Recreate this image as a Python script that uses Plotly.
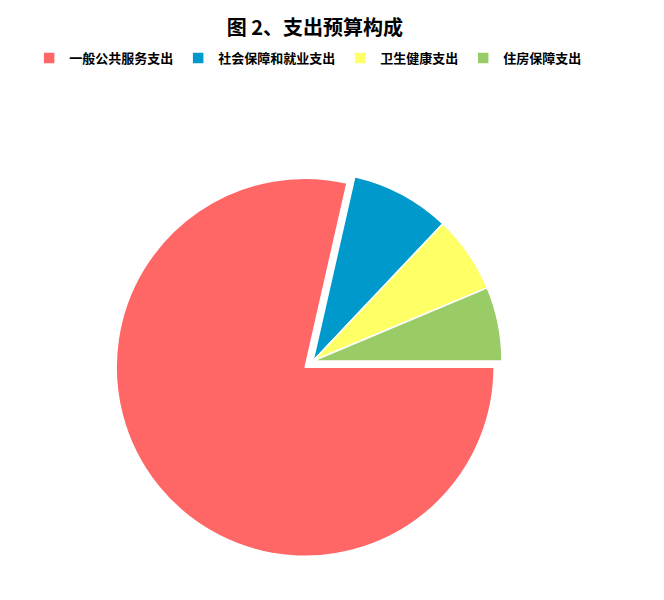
import plotly.graph_objects as go

categories = ['一般公共服务支出', '社会保障和就业支出', '卫生健康支出', '住房保障支出']
values = [2828, 306, 238, 228]
colors = ['#FF6666', '#0099CC', '#FFFF66', '#99CC66']
pulls = [0.053, 0, 0, 0]

fig = go.Figure(go.Pie(labels=categories,
                       values=values,
                       sort=False,
                       direction='clockwise',
                       rotation=90,
                       pull=pulls,
                       textinfo='none',
                       hoverinfo='label+value+percent',
                       marker=dict(colors=colors, line=dict(color='white', width=1.5)),
                       domain=dict(x=[0.1596, 0.7590], y=[0.0800, 0.7434])))

fig.update_layout(width=664, height=600,
                  margin=dict(l=0, r=0, t=0, b=0),
                  paper_bgcolor='white',
                  font=dict(family='Noto Sans CJK SC', color='black'),
                  title=dict(text='图 2、支出预算构成', x=0.4623, xanchor='center', y=0.9667, yanchor='middle',
                             font=dict(size=20, weight='bold', color='black')),
                  legend=dict(orientation='h', x=0.452, xanchor='center', y=0.9417, yanchor='top',
                              font=dict(size=13, weight='bold'), itemwidth=30,
                              traceorder='normal'))

fig.write_html("out.html")
